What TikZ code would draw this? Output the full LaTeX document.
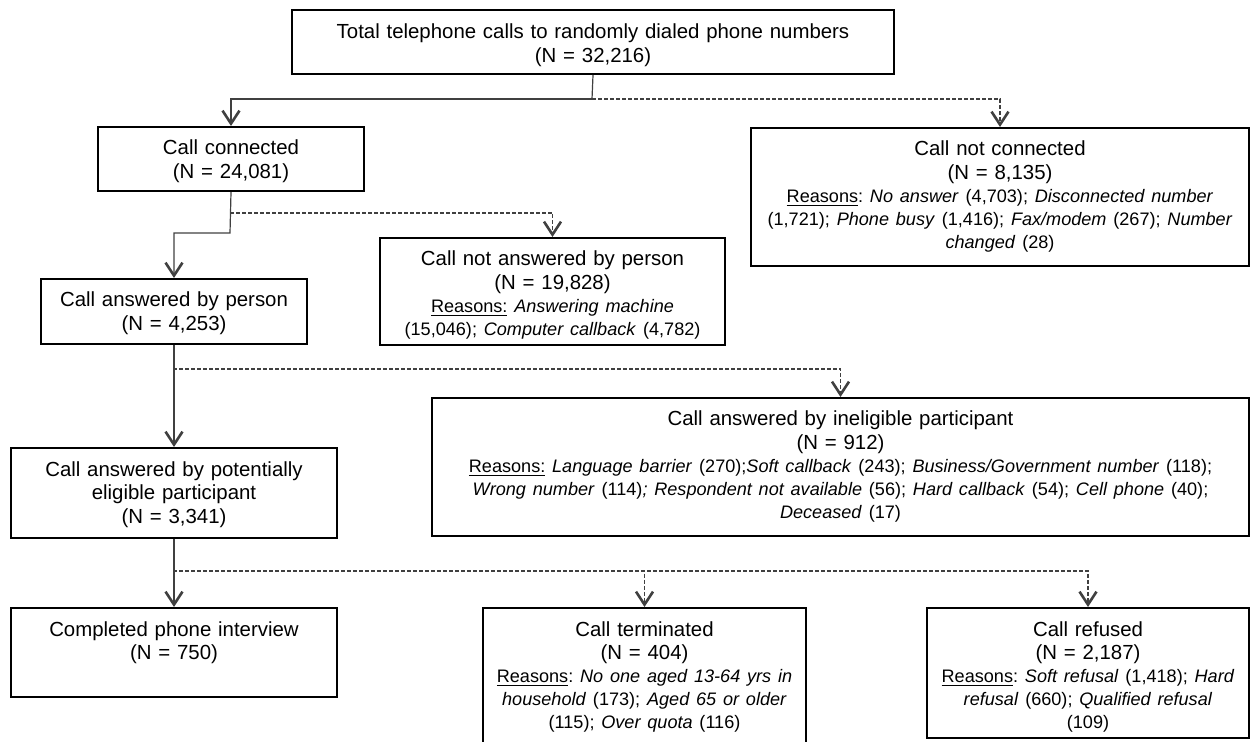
\documentclass[tikz,border=0pt]{standalone}
\usepackage{fontspec}
\setmainfont{Liberation Sans}
\usetikzlibrary{arrows.meta}
\frenchspacing
\newcommand{\rsz}{\fontsize{9.05pt}{11.4pt}\selectfont}
\begin{document}
\begin{tikzpicture}[x=0.5pt,y=-0.5pt,
  box/.style={draw=black, line width=1pt, inner sep=0pt, anchor=north west},
  txt/.style={anchor=base, inner sep=0pt, align=center, font=\fontsize{10.2pt}{11.8pt}\selectfont\frenchspacing, text=black},
  conn/.style={draw=black!75, line width=0.6pt},
  dconn/.style={conn, dash pattern=on 2pt off 1pt},
  arr/.style={-{Straight Barb[length=6.5pt,width=8.5pt,line width=1.3pt]}},
]
\useasboundingbox (0,0) rectangle (1251,742);
\clip (0,0) rectangle (1251,742);
% boxes
\node[box, minimum width=301pt, minimum height=32pt] (top) at (291,9) {};
\node[box, minimum width=133pt, minimum height=32pt] (cc) at (97,126) {};
\node[box, minimum width=249pt, minimum height=69pt] (cnc) at (750,127) {};
\node[box, minimum width=133pt, minimum height=32.5pt] (cap) at (40,278) {};
\node[box, minimum width=172.5pt, minimum height=53.5pt] (cna) at (379,237) {};
\node[box, minimum width=408.5pt, minimum height=69pt] (inel) at (431,397) {};
\node[box, minimum width=163pt, minimum height=45pt] (pe) at (10,447) {};
\node[box, minimum width=163pt, minimum height=44.5pt] (comp) at (10,607) {};
\node[box, minimum width=161.5pt, minimum height=75pt] (term) at (482,607) {};
\node[box, minimum width=161pt, minimum height=65pt] (ref) at (926,607) {};
% texts
\node[txt, text width=300pt] (topT) at ([yshift=-14.8pt]top.north) {Total telephone calls to randomly dialed phone numbers\\(N = 32,216)};
\node[txt, text width=132pt] (ccT) at ([yshift=-14.5pt]cc.north) {Call connected\\(N = 24,081)};
\node[txt, text width=248pt] (cncT) at ([yshift=-14.5pt]cnc.north) {Call not connected\\(N = 8,135)\\{\rsz\underline{Reasons}: \textit{No answer} (4,703); \textit{Disconnected number}\\(1,721); \textit{Phone busy} (1,416); \textit{Fax/modem} (267); \textit{Number}\\\textit{changed} (28)}};
\node[txt, text width=132pt] (capT) at ([yshift=-14.5pt]cap.north) {Call answered by person\\(N = 4,253)};
\node[txt, text width=171pt] (cnaT) at ([yshift=-14.5pt]cna.north) {Call not answered by person\\(N = 19,828)\\{\rsz\underline{Reasons:} \textit{Answering machine}\\(15,046); \textit{Computer callback} (4,782)}};
\node[txt, text width=407pt] (inelT) at ([yshift=-14.5pt]inel.north) {Call answered by ineligible participant\\(N = 912)\\{\rsz\underline{Reasons:} \textit{Language barrier} (270);\textit{Soft callback} (243); \textit{Business/Government number} (118);\\\textit{Wrong number} (114)\textit{; Respondent not available} (56); \textit{Hard callback} (54); \textit{Cell phone} (40);\\\textit{Deceased} (17)}};
\node[txt, text width=162pt] (peT) at ([yshift=-14.5pt]pe.north) {Call answered by potentially\\eligible participant\\(N = 3,341)};
\node[txt, text width=162pt] (compT) at ([yshift=-14.5pt]comp.north) {Completed phone interview\\(N = 750)};
\node[txt, text width=160pt] (termT) at ([yshift=-14.5pt]term.north) {Call terminated\\(N = 404)\\{\rsz\underline{Reasons}: \textit{No one aged 13-64 yrs in}\\\textit{household} (173); \textit{Aged 65 or older}\\(115); \textit{Over quota} (116)}};
\node[txt, text width=160pt] (refT) at ([yshift=-14.5pt]ref.north) {Call refused\\(N = 2,187)\\{\rsz\underline{Reasons}: \textit{Soft refusal} (1,418); \textit{Hard}\\\textit{refusal} (660); \textit{Qualified refusal}\\(109)}};
% connectors
\coordinate (j1) at (592,99);
\draw[conn] (top.south) -- (j1);
\draw[conn,arr] (j1) -| (cc.north);
\draw[dconn,arr] (j1) -| (cnc.north);
\coordinate (j2) at (230,213);
\coordinate (j3) at (230,233);
\draw[conn,arr] (cc.south) -- (j3) -| (cap.north);
\draw[dconn,arr] (j2) -| (cna.north);
\coordinate (j4) at (173,369);
\draw[conn,arr] (cap.south) -- (pe.north);
\draw[dconn,arr] (j4) -| (inel.north);
\coordinate (j5) at (173,571);
\draw[conn,arr] (pe.south) -- (comp.north);
\draw[dconn,arr] (j5) -| (term.north);
\draw[dconn,arr] (j5) -| (ref.north);
\end{tikzpicture}
\end{document}
